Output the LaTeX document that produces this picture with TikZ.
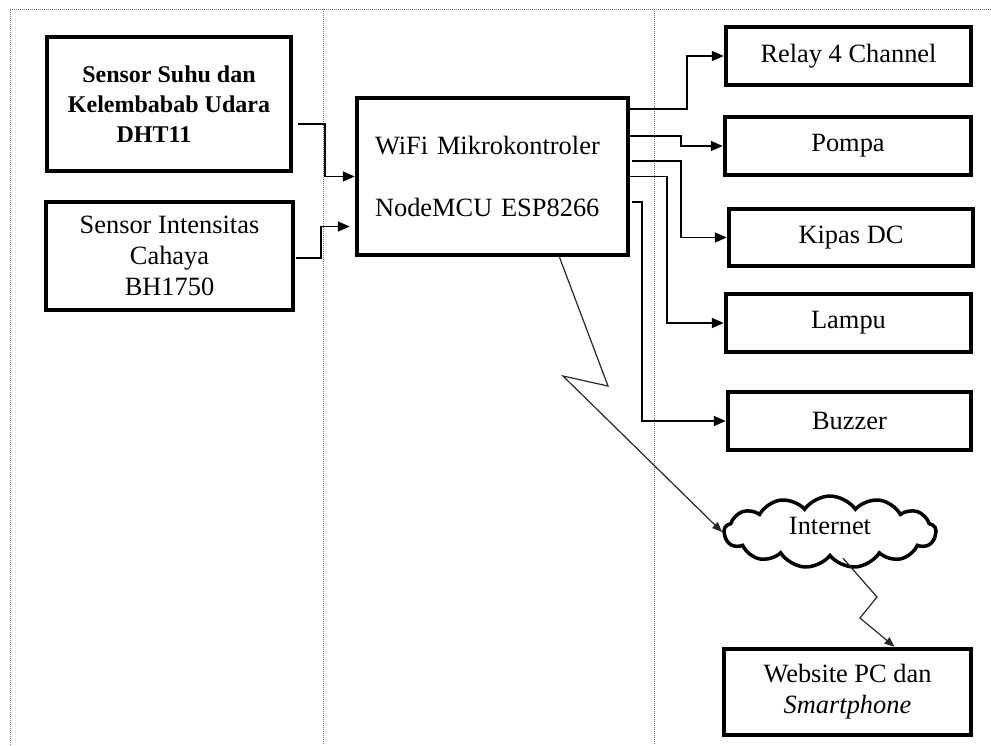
\documentclass[tikz,border=0pt]{standalone}
\usepackage{fontspec}
\setmainfont{Liberation Serif}
\usetikzlibrary{arrows.meta,calc,shapes.symbols}

\tikzset{
  blok/.style={draw=black, line width=4.5pt, inner sep=0pt, align=center,
    font=\fontsize{26.4}{31}\selectfont},
  garis/.style={draw=black, line width=1.6pt, -{Triangle[length=12pt,width=10pt]}},
  petir/.style={draw=black!85, line width=1.2pt, -{Triangle[length=10pt,width=8pt]}},
  batas/.style={draw=black!55, line width=1pt, dash pattern=on 1pt off 1pt}
}

\begin{document}
\begin{tikzpicture}[x=1pt,y=-1pt]
\useasboundingbox (0,0) rectangle (991,745);

% garis batas kolom
\draw[batas] (10,745) -- (10,9) -- (991,9);
\draw[batas] (323,9) -- (323,745);
\draw[batas] (654,9) -- (654,745);

% input
\node[blok, minimum width=244, minimum height=134, font=\bfseries\fontsize{24}{30}\selectfont] (dht) at (169,104) {Sensor Suhu dan\\Kelembabab Udara\\DHT11\hspace*{30pt}};
\node[blok, minimum width=247, minimum height=108] (bh) at (169.5,256) {Sensor Intensitas\\Cahaya\\BH1750};

% mikrokontroler
\node[blok, minimum width=271, minimum height=157, align=left, text width=235, font=\fontsize{26.4}{62}\selectfont] (mcu) at (492.5,176.5) {WiFi Mikrokontroler\\NodeMCU ESP8266};

% output
\node[blok, minimum width=245, minimum height=58] (relay) at (848.5,56) {Relay 4 Channel};
\node[blok, minimum width=246, minimum height=58] (pompa) at (848,146) {Pompa};
\node[blok, minimum width=244, minimum height=57] (kipas) at (851,237.5) {Kipas DC};
\node[blok, minimum width=245, minimum height=58] (lampu) at (848.5,323) {Lampu};
\node[blok, minimum width=243, minimum height=58] (buzzer) at (849.5,421) {Buzzer};

\node[cloud, draw=black, line width=3.5pt, cloud puffs=13, cloud puff arc=110, aspect=3, inner sep=0pt, minimum width=212, minimum height=72, font=\fontsize{26.4}{31}\selectfont] (inet) at (830,532) {\raisebox{12pt}{Internet}};
\node[blok, minimum width=247, minimum height=86] (web) at (847.5,692) {Website PC dan\\\textit{Smartphone}};

% sambungan
\draw[garis] ($(dht.east)+(5,20)$) -- ++(27,0) |- (mcu.west);
\draw[garis] ($(bh.east)+(1,2)$) -- ++(25,0) |- ($(mcu.west)+(-5,50)$);

\draw[garis] ($(mcu.east)+(0,-67.5)$) -- ++(57,0) |- (relay.west);
\draw[garis] ($(mcu.east)+(0,-40.5)$) -- ++(51,0) |- (pompa.west);
\draw[garis] ($(mcu.east)+(2,-15.5)$) -- ++(49,0) |- (kipas.west);
\draw[garis] (mcu.east) -- ++(37,0) |- (lampu.west);
\draw[garis] ($(mcu.east)+(2,25.5)$) -- ++(10,0) |- (buzzer.west);

\draw[petir] ($(mcu.south)+(67,0)$) -- (608,386) -- (563,376) -- (inet.west);
\draw[petir] ($(inet.south)+(13,0)$) -- (877,597) -- (860,618) -- ($(web.north)+(47,0)$);

\end{tikzpicture}
\end{document}
